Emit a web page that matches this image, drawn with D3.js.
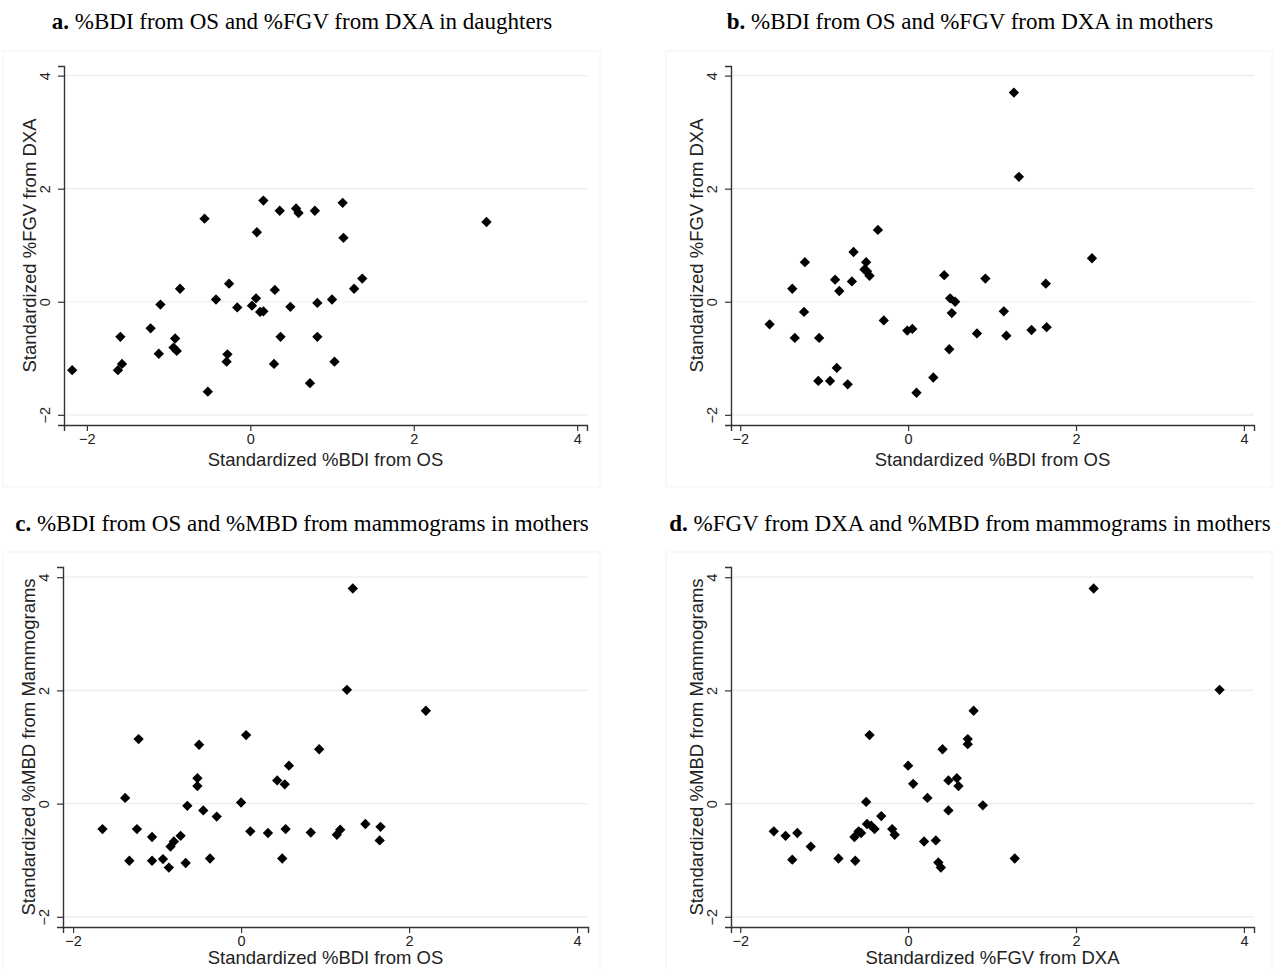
<!DOCTYPE html>
<html>
<head>
<meta charset="utf-8">
<script src="https://cdn.jsdelivr.net/npm/d3@7"></script>
<style>
  html, body { margin: 0; padding: 0; background: #fff; }
  svg { display: block; }
</style>
</head>
<body>
<svg id="chart" width="1275" height="970"></svg>
<script>
// ---- Data ----
const xTicks = [-2, 0, 2, 4];
const yTicks = [-2, 0, 2, 4];

const titles = [
  ["a.", " %BDI from OS and %FGV from DXA in daughters"],
  ["b.", " %BDI from OS and %FGV from DXA in mothers"],
  ["c.", " %BDI from OS and %MBD from mammograms in mothers"],
  ["d.", " %FGV from DXA and %MBD from mammograms in mothers"]
];
const xLabels = ["Standardized %BDI from OS", "Standardized %BDI from OS",
                 "Standardized %BDI from OS", "Standardized %FGV from DXA"];
const yLabels = ["Standardized %FGV from DXA", "Standardized %FGV from DXA",
                 "Standardized %MBD from Mammograms", "Standardized %MBD from Mammograms"];

// Panel a: daughters, %BDI (x) vs %FGV (y)
const aX = [-2.18,-1.62,-1.57,-1.59,-1.22,-1.10,-1.12,-0.92,-0.94,-0.90,-0.86,-0.56,-0.52,-0.42,-0.26,-0.28,-0.29,-0.16,0.02,0.07,0.08,0.12,0.16,0.16,0.30,0.29,0.36,0.37,0.49,0.56,0.59,0.73,0.79,0.82,0.82,1.00,1.03,1.13,1.14,1.27,1.37,2.89];
const aY = [-1.21,-1.21,-1.10,-0.62,-0.47,-0.05,-0.92,-0.65,-0.81,-0.87,0.23,1.47,-1.59,0.04,0.32,-0.93,-1.06,-0.10,-0.07,0.06,1.23,-0.18,-0.17,1.79,0.21,-1.10,1.61,-0.62,-0.09,1.65,1.57,-1.44,1.61,-0.02,-0.62,0.04,-1.06,1.75,1.13,0.23,0.41,1.41];

// Panel b: mothers, %BDI (x) vs %FGV (y)
const bX = [-1.65,-1.38,-1.35,-1.23,-1.24,-1.07,-1.06,-0.93,-0.87,-0.85,-0.82,-0.72,-0.67,-0.65,-0.52,-0.50,-0.49,-0.46,-0.36,-0.29,-0.01,0.05,0.10,0.30,0.43,0.49,0.50,0.56,0.52,0.82,0.92,1.14,1.17,1.26,1.32,1.47,1.64,1.65,2.19];
const bY = [-0.40,0.23,-0.64,0.70,-0.18,-1.40,-0.64,-1.40,0.39,-1.17,0.19,-1.46,0.36,0.88,0.57,0.70,0.54,0.46,1.27,-0.33,-0.51,-0.48,-1.61,-1.34,0.47,-0.84,0.06,0.00,-0.20,-0.56,0.41,-0.17,-0.60,3.70,2.21,-0.50,0.32,-0.45,0.77];

// Panel c: mothers, %BDI (x) vs %MBD (y)
const cX = [-1.65,-1.38,-1.33,-1.22,-1.24,-1.06,-1.06,-0.93,-0.86,-0.84,-0.80,-0.72,-0.66,-0.64,-0.52,-0.52,-0.50,-0.45,-0.37,-0.29,0.00,0.06,0.11,0.32,0.43,0.52,0.49,0.53,0.57,0.83,0.93,1.14,1.18,1.26,1.33,1.48,1.65,1.66,2.20];
const cY = [-0.45,0.10,-1.01,1.14,-0.45,-0.59,-1.01,-0.98,-1.13,-0.76,-0.67,-0.57,-1.05,-0.04,0.45,0.31,1.04,-0.12,-0.97,-0.23,0.02,1.21,-0.49,-0.52,0.41,0.34,-0.97,-0.45,0.67,-0.51,0.96,-0.55,-0.46,2.01,3.80,-0.36,-0.65,-0.41,1.64];

// Panel d: mothers, %FGV (x) vs %MBD (y)
const dX = [-1.60,-1.46,-1.38,-1.32,-1.16,-0.83,-0.64,-0.63,-0.59,-0.56,-0.50,-0.49,-0.46,-0.44,-0.40,-0.32,-0.19,-0.16,0.00,0.06,0.19,0.23,0.33,0.36,0.39,0.41,0.48,0.48,0.58,0.60,0.71,0.71,0.78,0.89,1.27,2.21,3.71];
const dY = [-0.49,-0.57,-0.99,-0.52,-0.76,-0.97,-0.59,-1.01,-0.49,-0.52,0.03,-0.36,1.21,-0.39,-0.45,-0.22,-0.45,-0.55,0.67,0.35,-0.67,0.10,-0.65,-1.04,-1.13,0.96,0.41,-0.12,0.45,0.31,1.14,1.05,1.64,-0.03,-0.97,3.80,2.01];

const xsData = [aX, bX, cX, dX];
const ysData = [aY, bY, cY, dY];

// ---- Layout ----
const panels = [
  { xr: [64, 587],  xd: [-2.28, 4.12], yr: [425, 66],  yd: [-2.18, 4.17], titleX: 302, titleY: 29, box: [3, 51, 600, 487] },
  { xr: [731, 1254], xd: [-2.11, 4.12], yr: [425, 66],  yd: [-2.18, 4.17], titleX: 970, titleY: 29, box: [666, 51, 1272, 487] },
  { xr: [63, 588],  xd: [-2.12, 4.13], yr: [927, 567], yd: [-2.18, 4.18], titleX: 302, titleY: 531, box: [3, 552, 600, 990] },
  { xr: [731, 1254], xd: [-2.11, 4.12], yr: [927, 567], yd: [-2.18, 4.18], titleX: 970, titleY: 531, box: [666, 552, 1272, 990] }
];

const svg = d3.select("#chart");
const sans = "'Liberation Sans', Arial, sans-serif";
const serif = "'Liberation Serif', 'Times New Roman', serif";
const diamond = d3.symbol().type(d3.symbolDiamond2).size(68);

panels.forEach((p, i) => {
  const g = svg.append("g");
  const x = d3.scaleLinear().domain(p.xd).range(p.xr);
  const y = d3.scaleLinear().domain(p.yd).range(p.yr);

  // faint graph-region box
  g.append("rect")
    .attr("x", p.box[0]).attr("y", p.box[1])
    .attr("width", p.box[2] - p.box[0]).attr("height", p.box[3] - p.box[1])
    .attr("fill", "none").attr("stroke", "#f4f4f4").attr("stroke-width", 1);

  // title
  const t = g.append("text")
    .attr("x", p.titleX).attr("y", p.titleY)
    .attr("text-anchor", "middle")
    .style("font-family", serif).style("font-size", "23px").attr("fill", "#000");
  t.append("tspan").style("font-weight", "bold").text(titles[i][0]);
  t.append("tspan").text(titles[i][1]);

  // gridlines
  g.append("g").selectAll("line").data(yTicks).join("line")
    .attr("x1", p.xr[0]).attr("x2", p.xr[1])
    .attr("y1", d => y(d)).attr("y2", d => y(d))
    .attr("stroke", "#ececec").attr("stroke-width", 1.2);

  // x axis
  const xa = g.append("g").attr("transform", `translate(0,${p.yr[0]})`)
    .call(d3.axisBottom(x).tickValues(xTicks).tickSize(6).tickPadding(3).tickFormat(d3.format("d")));
  xa.select(".domain").attr("stroke", "#333").attr("stroke-width", 1.4);
  xa.selectAll(".tick line").attr("stroke", "#333").attr("stroke-width", 1.2);
  xa.selectAll(".tick text").style("font-family", sans).style("font-size", "14.5px").attr("fill", "#222");

  // y axis
  const ya = g.append("g").attr("transform", `translate(${p.xr[0]},0)`)
    .call(d3.axisLeft(y).tickValues(yTicks).tickSize(6).tickPadding(3).tickFormat(d3.format("d")));
  ya.select(".domain").attr("stroke", "#333").attr("stroke-width", 1.4);
  ya.selectAll(".tick line").attr("stroke", "#333").attr("stroke-width", 1.2);
  ya.selectAll(".tick text")
    .style("font-family", sans).style("font-size", "14.5px").attr("fill", "#222")
    .attr("x", null)
    .attr("text-anchor", "middle")
    .attr("transform", "translate(-19,0) rotate(-90)")
    .attr("dy", "0.35em");

  // axis titles
  g.append("text")
    .attr("x", (p.xr[0] + p.xr[1]) / 2).attr("y", Math.min(p.yr[0] + 41, 964))
    .attr("text-anchor", "middle")
    .style("font-family", sans).style("font-size", "18.5px").attr("fill", "#222")
    .text(xLabels[i]);
  g.append("text")
    .attr("transform", `translate(${p.xr[0] - 28},${(p.yr[0] + p.yr[1]) / 2}) rotate(-90)`)
    .attr("text-anchor", "middle")
    .style("font-family", sans).style("font-size", "18.5px").attr("fill", "#222")
    .text(yLabels[i]);

  // points
  const pts = xsData[i].map((v, k) => [v, ysData[i][k]]);
  g.append("g").selectAll("path").data(pts).join("path")
    .attr("d", diamond)
    .attr("transform", d => `translate(${x(d[0])},${y(d[1])})`)
    .attr("fill", "#000");
});
</script>
</body>
</html>
